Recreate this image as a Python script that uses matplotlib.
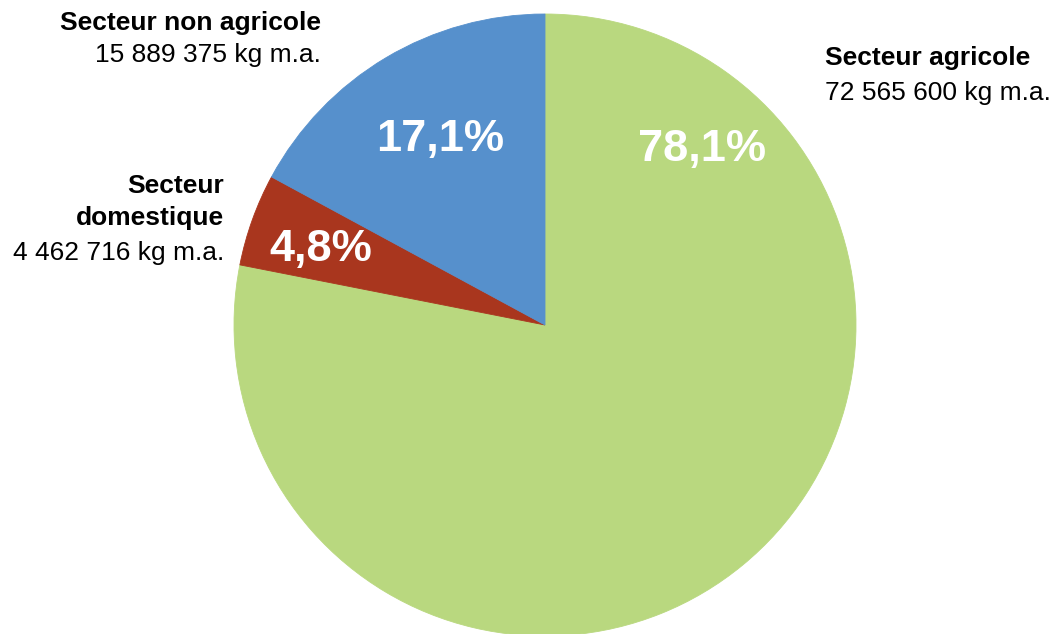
import matplotlib
matplotlib.use("Agg")
import matplotlib.pyplot as plt

# Quantities by sector (kg of active substance)
sectors = ["Secteur agricole", "Secteur domestique", "Secteur non agricole"]
quantities = [72565600, 4462716, 15889375]
quantity_labels = ["72 565 600 kg m.a.", "4 462 716 kg m.a.", "15 889 375 kg m.a."]
colors = ["#B9D87F", "#A9361E", "#5690CC"]

W, H = 1055, 634
plt.rcParams["font.family"] = ["Liberation Sans", "DejaVu Sans"]
fig = plt.figure(figsize=(W / 100, H / 100), dpi=100)
ax = fig.add_axes([0, 0, 1, 1])

wedges, _, autotexts = ax.pie(
    quantities, colors=colors, startangle=90, counterclock=False,
    center=(545, H - 325), radius=311, frame=True,
    autopct=lambda p: f"{p:.1f}".replace(".", ",") + "%",
    pctdistance=0.65,
    textprops=dict(color="white", fontsize=32.5, fontweight="bold"),
)
for w in wedges:
    w.set_edgecolor(w.get_facecolor())
    w.set_linewidth(0.6)

ax.set_xlim(0, W)
ax.set_ylim(0, H)
ax.set_aspect("equal")
ax.axis("off")

# place percentage labels
pct_pos = [(702, 150), (321, 250), (440, 140)]
for t, (x, y) in zip(autotexts, pct_pos):
    t.set_position((x, H - y))
    t.set_ha("center")
    t.set_va("center")

fs = 19
# Secteur non agricole
ax.text(321, H - 23, "Secteur non agricole", ha="right", va="center",
        fontsize=fs, fontweight="bold")
ax.text(321, H - 55, quantity_labels[2], ha="right", va="center", fontsize=fs)
# Secteur domestique
ax.text(224, H - 186, "Secteur", ha="right", va="center", fontsize=fs, fontweight="bold")
ax.text(224, H - 218, "domestique", ha="right", va="center", fontsize=fs, fontweight="bold")
ax.text(224, H - 253, quantity_labels[1], ha="right", va="center", fontsize=fs)
# Secteur agricole
ax.text(825, H - 58, "Secteur agricole", ha="left", va="center", fontsize=fs, fontweight="bold")
ax.text(825, H - 93, quantity_labels[0], ha="left", va="center", fontsize=fs)

fig.savefig("out.png", dpi=100, facecolor="white")
